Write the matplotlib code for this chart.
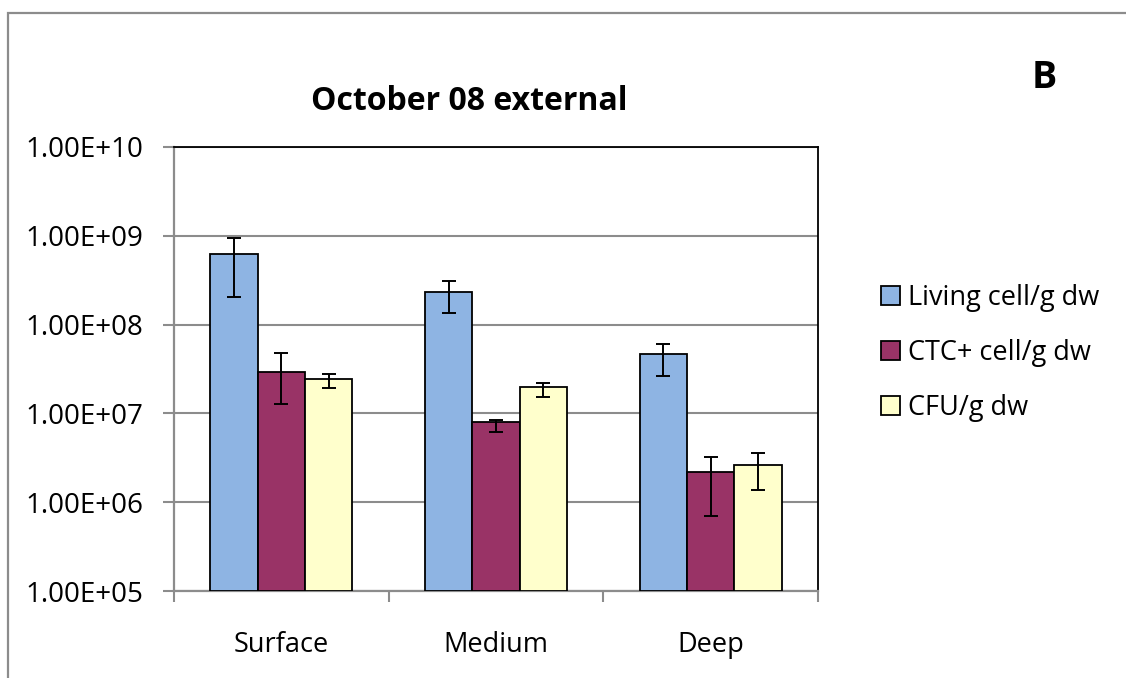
import numpy as np
import matplotlib
matplotlib.use("Agg")
import matplotlib.pyplot as plt
from matplotlib.patches import Rectangle, Patch
from matplotlib.ticker import FixedLocator, NullLocator

plt.rcParams['font.family'] = ['Open Sans', 'DejaVu Sans']

categories = ["Surface", "Medium", "Deep"]
series_names = ["Living cell/g dw", "CTC+ cell/g dw", "CFU/g dw"]
living = [6.2e8, 2.3e8, 4.6e7]
living_lo = [2.06e8, 1.34e8, 2.64e7]
living_hi = [9.5e8, 3.13e8, 6.1e7]
ctc = [2.92e7, 7.85e6, 2.07e6]
ctc_lo = [1.26e7, 6.1e6, 6.95e5]
ctc_hi = [4.8e7, 8.4e6, 3.19e6]
cfu = [2.44e7, 1.95e7, 2.5e6]
cfu_lo = [1.91e7, 1.53e7, 1.36e6]
cfu_hi = [2.75e7, 2.2e7, 3.57e6]
ytick_values = [1e5, 1e6, 1e7, 1e8, 1e9, 1e10]
ytick_labels = ["1.00E+05", "1.00E+06", "1.00E+07", "1.00E+08", "1.00E+09", "1.00E+10"]
colors = ["#8EB4E3", "#993366", "#FFFFCC"]

W, H = 1126, 678
fig = plt.figure(figsize=(W / 100, H / 100), dpi=100)

# outer chart border (cut by image on right/bottom)
fig.patches.append(Rectangle((8 / W, -0.1), 1.2, 1 - 13 / H + 0.1, transform=fig.transFigure,
                             fill=False, edgecolor="#8c8c8c", linewidth=1.6))

ax = fig.add_axes([174 / W, 1 - 591 / H, 644 / W, 444 / H])
ax.set_yscale("log")
ax.set_ylim(1e5, 1e10)
ax.set_xlim(-0.5, 2.5)

x = np.arange(len(categories))
bw = 0.221
data = [(living, living_lo, living_hi), (ctc, ctc_lo, ctc_hi), (cfu, cfu_lo, cfu_hi)]
for i, (vals, lo, hi) in enumerate(data):
    pos = x + (i - 1) * bw
    vals = np.array(vals)
    yerr = [vals - np.array(lo), np.array(hi) - vals]
    ax.bar(pos, vals, width=bw, bottom=1e5, color=colors[i], edgecolor="black",
           linewidth=1.3, zorder=3, label=series_names[i])
    ax.errorbar(pos, vals, yerr=yerr, fmt="none", ecolor="black", elinewidth=1.4,
                capsize=5, capthick=1.4, zorder=4)

ax.yaxis.set_major_locator(FixedLocator(ytick_values))
ax.yaxis.set_minor_locator(NullLocator())
ax.set_yticklabels(ytick_labels)
ax.grid(axis="y", color="#8c8c8c", linewidth=1.5, zorder=0)
ax.set_axisbelow(True)

ax.set_xticks([-0.5, 0.5, 1.5, 2.5])
ax.set_xticklabels([])
ax.xaxis.set_minor_locator(FixedLocator(x))
ax.set_xticklabels(categories, minor=True)
ax.tick_params(axis="x", which="minor", length=0, pad=29, labelsize=19.5)
ax.tick_params(axis="x", which="major", length=8, width=1.5, color="#8c8c8c")
ax.tick_params(axis="y", which="major", length=8, width=1.5, color="#8c8c8c",
               pad=14, labelsize=20)

for s in ["top", "right"]:
    ax.spines[s].set_color("black")
    ax.spines[s].set_linewidth(1.3)
for s in ["left", "bottom"]:
    ax.spines[s].set_color("#8c8c8c")
    ax.spines[s].set_linewidth(1.6)

fig.text(469 / W, 1 - 102 / H, "October 08 external", ha="center", va="center",
         fontsize=23, fontweight="bold")
fig.text(1044.5 / W, 1 - 78 / H, "B", ha="center", va="center",
         fontsize=27, fontweight="bold")

handles = [Patch(facecolor=c, edgecolor="black", linewidth=1.3) for c in colors]
fig.legend(handles, series_names, loc="upper left", bbox_to_anchor=(881 / W, 1 - 284 / H),
           frameon=False, fontsize=19.5, handlelength=0.7, handleheight=0.7,
           handletextpad=0.3, labelspacing=1.0, borderaxespad=0, borderpad=0)

fig.savefig("out.png", dpi=100)
